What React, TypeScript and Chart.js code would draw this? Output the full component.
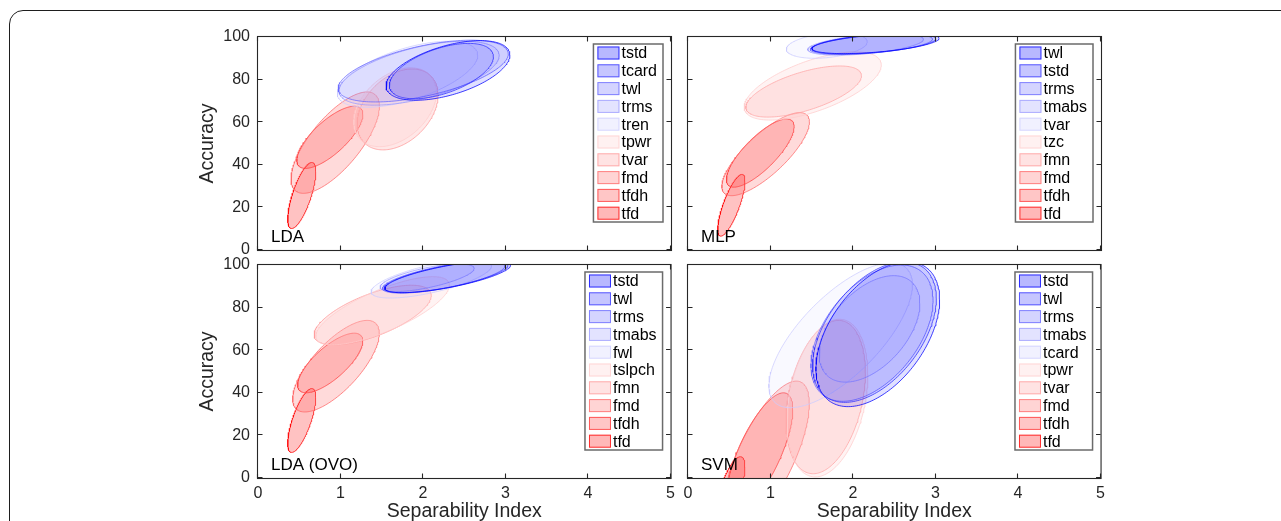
import React, { useEffect, useRef } from "react";
import { Chart, registerables } from "chart.js";

Chart.register(...registerables);

const FONT = "'Liberation Sans', Arial, Helvetica, sans-serif";
const AXIS_COLOR = "#262626";

// ---- axes ----
const xTickValues = [0, 1, 2, 3, 4, 5];
const yTickValues = [0, 20, 40, 60, 80, 100];
const xAxisTitle = "Separability Index";
const yAxisTitle = "Accuracy";

// ---- LDA panel: ellipse centre, spread and correlation per feature ----
const ldaNames = ["tstd", "tcard", "twl", "trms", "tren", "tpwr", "tvar", "fmd", "tfdh", "tfd"];
const ldaCenterX = [2.3, 2.22, 2.0, 1.95, 1.81, 1.66, 1.69, 0.935, 0.87, 0.53];
const ldaCenterY = [84.3, 84.0, 84.0, 83.0, 82.5, 67.0, 66.0, 50.4, 52.9, 25.6];
const ldaSpreadX = [0.75, 0.63, 1.03, 0.97, 0.85, 0.5, 0.49, 0.535, 0.4, 0.17];
const ldaSpreadY = [14.0, 13.0, 14.5, 15.0, 15.5, 18.5, 19.0, 23.8, 14.6, 15.5];
const ldaCorr = [0.52, 0.52, 0.56, 0.56, 0.58, 0.38, 0.36, 0.72, 0.74, 0.72];

// ---- MLP panel ----
const mlpNames = ["twl", "tstd", "trms", "tmabs", "tvar", "tzc", "fmn", "fmd", "tfdh", "tfd"];
const mlpCenterX = [2.27, 2.25, 2.22, 2.15, 1.68, 1.51, 1.4, 0.94, 0.875, 0.525];
const mlpCenterY = [97.0, 96.8, 96.6, 96.5, 96.0, 77.0, 74.4, 45.0, 45.5, 21.0];
const mlpSpreadX = [0.77, 0.75, 0.74, 0.7, 0.49, 0.83, 0.7, 0.53, 0.41, 0.165];
const mlpSpreadY = [4.8, 4.8, 4.8, 5.0, 6.0, 16.0, 12.0, 19.5, 16.0, 14.5];
const mlpCorr = [0.5, 0.5, 0.5, 0.48, 0.3, 0.62, 0.62, 0.78, 0.78, 0.78];

// ---- LDA (OVO) panel ----
const ovoNames = ["tstd", "twl", "trms", "tmabs", "fwl", "tslpch", "fmn", "fmd", "tfdh", "tfd"];
const ovoCenterX = [2.3, 2.28, 2.25, 2.05, 2.1, 1.51, 1.39, 0.945, 0.875, 0.53];
const ovoCenterY = [94.5, 94.5, 94.3, 94.0, 93.5, 78.5, 76.5, 52.5, 54.0, 27.0];
const ovoSpreadX = [0.76, 0.75, 0.74, 0.57, 0.73, 0.81, 0.71, 0.525, 0.395, 0.17];
const ovoSpreadY = [7.5, 7.5, 7.5, 6.5, 9.0, 16.0, 14.0, 21.5, 14.0, 15.0];
const ovoCorr = [0.72, 0.72, 0.7, 0.68, 0.68, 0.75, 0.66, 0.72, 0.74, 0.72];

// ---- SVM panel ----
const svmNames = ["tstd", "twl", "trms", "tmabs", "tcard", "tpwr", "tvar", "fmd", "tfdh", "tfd"];
const svmCenterX = [2.3, 2.26, 2.23, 2.2, 1.85, 1.69, 1.67, 0.95, 0.87, 0.52];
const svmCenterY = [67.5, 68.5, 68.0, 70.0, 67.0, 37.5, 38.0, 10.5, 12.0, -5.0];
const svmSpreadX = [0.75, 0.75, 0.74, 0.61, 0.87, 0.49, 0.48, 0.52, 0.4, 0.17];
const svmSpreadY = [34.0, 33.0, 32.0, 25.0, 34.0, 37.0, 36.0, 35.0, 28.0, 15.0];
const svmCorr = [0.48, 0.48, 0.48, 0.48, 0.7, 0.3, 0.32, 0.7, 0.72, 0.68];

// ---- layout ----
const Y_AXIS_W = 70;
const X_AXIS_H = 45;
const PAD_TOP = 24;
const PAD_RIGHT = 10;
const AREA_W = 413;
const AREA_H = 213;
const CANVAS_W = Y_AXIS_W + AREA_W + PAD_RIGHT;
const CANVAS_H = PAD_TOP + AREA_H + X_AXIS_H;

const BLUE_FILL_ALPHA = 0.12;
const RED_FILL_ALPHA = 0.24;
const EDGE_ALPHA = 0.75;
const SWATCH_ALPHA = 0.28;

type PanelSpec = {
  title: string;
  names: string[];
  cx: number[];
  cy: number[];
  sx: number[];
  sy: number[];
  rho: number[];
  areaLeft: number;
  areaTop: number;
  showY: boolean;
  showX: boolean;
};

const panels: PanelSpec[] = [
  { title: "LDA", names: ldaNames, cx: ldaCenterX, cy: ldaCenterY, sx: ldaSpreadX, sy: ldaSpreadY, rho: ldaCorr, areaLeft: 258, areaTop: 37, showY: true, showX: false },
  { title: "MLP", names: mlpNames, cx: mlpCenterX, cy: mlpCenterY, sx: mlpSpreadX, sy: mlpSpreadY, rho: mlpCorr, areaLeft: 688, areaTop: 37, showY: false, showX: false },
  { title: "LDA (OVO)", names: ovoNames, cx: ovoCenterX, cy: ovoCenterY, sx: ovoSpreadX, sy: ovoSpreadY, rho: ovoCorr, areaLeft: 258, areaTop: 265, showY: true, showX: true },
  { title: "SVM", names: svmNames, cx: svmCenterX, cy: svmCenterY, sx: svmSpreadX, sy: svmSpreadY, rho: svmCorr, areaLeft: 688, areaTop: 265, showY: false, showX: true },
];

function rampColor(i: number): [number, number, number] {
  if (i < 5) {
    const v = Math.round(255 * 0.2 * i);
    return [v, v, 255];
  }
  const v = Math.round(255 * 0.2 * (9 - i));
  return [255, v, v];
}

function rgba(c: [number, number, number], a: number) {
  return `rgba(${c[0]},${c[1]},${c[2]},${a})`;
}

// outline of the confidence ellipse given centre, spreads and correlation
function ellipsePoints(cx: number, cy: number, sx: number, sy: number, rho: number) {
  const pts: { x: number; y: number }[] = [];
  const n = 180;
  const k = Math.sqrt(1 - rho * rho);
  for (let j = 0; j <= n; j++) {
    const t = (2 * Math.PI * j) / n;
    pts.push({
      x: cx + sx * Math.cos(t),
      y: cy + sy * (rho * Math.cos(t) + k * Math.sin(t)),
    });
  }
  return pts;
}

function makeDecor(spec: PanelSpec) {
  return {
    id: "decor",
    afterDatasetsDraw(chart: any) {
      const { ctx, chartArea: a, scales } = chart;
      const xs = scales.x;
      const ys = scales.y;
      ctx.save();
      ctx.strokeStyle = AXIS_COLOR;
      ctx.lineWidth = 1.1;
      ctx.strokeRect(a.left - 0.5, a.top - 0.5, a.right - a.left + 1, a.bottom - a.top + 1);
      const tl = 4.5;
      ctx.beginPath();
      xTickValues.forEach((v) => {
        const px = Math.round(xs.getPixelForValue(v)) - 0.5;
        ctx.moveTo(px, a.bottom);
        ctx.lineTo(px, a.bottom - tl);
        ctx.moveTo(px, a.top);
        ctx.lineTo(px, a.top + tl);
      });
      yTickValues.forEach((v) => {
        const py = Math.round(ys.getPixelForValue(v)) - 0.5;
        ctx.moveTo(a.left, py);
        ctx.lineTo(a.left + tl, py);
        ctx.moveTo(a.right, py);
        ctx.lineTo(a.right - tl, py);
      });
      ctx.stroke();

      // panel label
      ctx.font = `17px ${FONT}`;
      ctx.fillStyle = "#000";
      ctx.textAlign = "left";
      ctx.textBaseline = "alphabetic";
      ctx.fillText(spec.title, a.left + 13, a.bottom - 8);

      // legend
      ctx.font = `16px ${FONT}`;
      const maxW = Math.max(...spec.names.map((n) => ctx.measureText(n).width));
      const boxW = 4 + 22 + 3 + maxW + 5;
      const rowH = 17.8;
      const boxH = rowH * spec.names.length;
      const right = a.right - 8;
      const top = a.top + 7;
      const left = right - boxW;
      ctx.fillStyle = "#fff";
      ctx.fillRect(left, top, boxW, boxH);
      ctx.strokeStyle = "#6b6b6b";
      ctx.lineWidth = 1.5;
      ctx.strokeRect(left, top, boxW, boxH);
      spec.names.forEach((n, i) => {
        const cyy = top + 9 + i * rowH;
        const c = rampColor(i);
        ctx.fillStyle = rgba(c, SWATCH_ALPHA);
        ctx.fillRect(left + 4, cyy - 6.5, 22, 13);
        ctx.strokeStyle = rgba(c, EDGE_ALPHA);
        ctx.lineWidth = 1;
        ctx.strokeRect(left + 4.5, cyy - 6, 21, 12);
        ctx.fillStyle = "#000";
        ctx.textAlign = "left";
        ctx.textBaseline = "middle";
        ctx.fillText(n, left + 28, cyy + 1);
      });
      ctx.restore();
    },
  };
}

function Panel({ spec }: { spec: PanelSpec }) {
  const ref = useRef<HTMLCanvasElement | null>(null);
  useEffect(() => {
    if (!ref.current) return;
    const datasets = spec.names.map((name, i) => {
      const c = rampColor(i);
      return {
        label: name,
        data: ellipsePoints(spec.cx[i], spec.cy[i], spec.sx[i], spec.sy[i], spec.rho[i]),
        showLine: true,
        fill: "shape",
        backgroundColor: rgba(c, i < 5 ? BLUE_FILL_ALPHA : RED_FILL_ALPHA),
        borderColor: rgba(c, EDGE_ALPHA),
        borderWidth: 1,
        pointRadius: 0,
        tension: 0,
      };
    });
    const chart = new Chart(ref.current, {
      type: "scatter",
      data: { datasets } as any,
      options: {
        responsive: false,
        animation: false,
        devicePixelRatio: 1,
        events: [],
        layout: { padding: { top: PAD_TOP, right: PAD_RIGHT, left: 0, bottom: 0 } },
        plugins: {
          legend: { display: false },
          tooltip: { enabled: false },
        },
        scales: {
          x: {
            type: "linear",
            min: 0,
            max: 5,
            grid: { display: false, drawTicks: false },
            border: { display: false },
            ticks: {
              display: spec.showX,
              stepSize: 1,
              padding: 6,
              color: AXIS_COLOR,
              font: { family: FONT, size: 16 },
            },
            title: {
              display: spec.showX,
              text: xAxisTitle,
              color: AXIS_COLOR,
              font: { family: FONT, size: 19.5 },
              padding: { top: 0, bottom: 0 },
            },
            afterFit: (s: any) => {
              s.height = X_AXIS_H;
            },
          },
          y: {
            type: "linear",
            min: 0,
            max: 100,
            grid: { display: false, drawTicks: false },
            border: { display: false },
            ticks: {
              display: spec.showY,
              stepSize: 20,
              padding: 8,
              color: AXIS_COLOR,
              font: { family: FONT, size: 16 },
            },
            title: {
              display: spec.showY,
              text: yAxisTitle,
              color: AXIS_COLOR,
              font: { family: FONT, size: 19.5 },
              padding: { top: 8, bottom: 0 },
            },
            afterFit: (s: any) => {
              s.width = Y_AXIS_W;
            },
          },
        },
      } as any,
      plugins: [makeDecor(spec) as any],
    });
    return () => chart.destroy();
  }, [spec]);
  return (
    <canvas
      ref={ref}
      width={CANVAS_W}
      height={CANVAS_H}
      style={{
        position: "absolute",
        left: spec.areaLeft - Y_AXIS_W,
        top: spec.areaTop - PAD_TOP,
        width: CANVAS_W,
        height: CANVAS_H,
      }}
    />
  );
}

export default function App() {
  return (
    <div
      style={{
        position: "fixed",
        left: 0,
        top: 0,
        width: 1281,
        height: 521,
        overflow: "hidden",
        background: "#fff",
      }}
    >
      <div
        style={{
          position: "absolute",
          left: 9,
          top: 10,
          width: 1400,
          height: 700,
          border: "1.5px solid #1e1e1e",
          borderRadius: 14,
          boxSizing: "border-box",
        }}
      />
      {panels.map((p) => (
        <Panel key={p.title} spec={p} />
      ))}
    </div>
  );
}
